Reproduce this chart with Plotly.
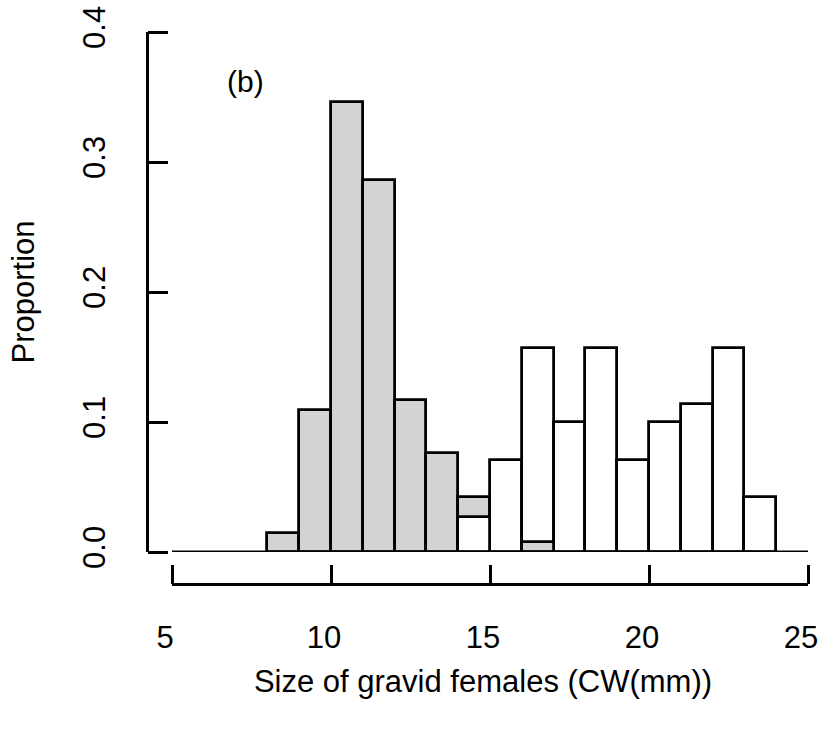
import plotly.graph_objects as go

# Histogram bins (lower edges, width 1 mm)
bin_lower = [8, 9, 10, 11, 12, 13, 14, 15, 16, 17, 18, 19, 20, 21, 22, 23, 24]
gray_prop = [0.015, 0.109, 0.346, 0.286, 0.117, 0.076, 0.042, 0.0, 0.008,
             0.0, 0.0, 0.0, 0.0, 0.0, 0.0, 0.0, 0.0]
white_prop = [0.0, 0.0, 0.0, 0.0, 0.0, 0.0, 0.027, 0.071, 0.157,
              0.100, 0.157, 0.071, 0.100, 0.114, 0.157, 0.042, 0.0]
x_ticks = [5, 10, 15, 20, 25]
y_ticks = [0.0, 0.1, 0.2, 0.3, 0.4]
y_tick_text = ["0.0", "0.1", "0.2", "0.3", "0.4"]

GRAY = "#D3D3D3"
WHITE = "#FFFFFF"
FONT = "Liberation Sans, Arial, sans-serif"
LW = 2.8

centers = [b + 0.5 for b in bin_lower]
# per bin: draw the taller bar first, the shorter one on top
tall_v, tall_c, short_v, short_c = [], [], [], []
for g, w in zip(gray_prop, white_prop):
    if g >= w:
        tall_v.append(g); tall_c.append(GRAY); short_v.append(w); short_c.append(WHITE)
    else:
        tall_v.append(w); tall_c.append(WHITE); short_v.append(g); short_c.append(GRAY)

def keep(vals, cols):
    xs, ys, cs = [], [], []
    for x, v, c in zip(centers, vals, cols):
        if v > 0:
            xs.append(x); ys.append(v); cs.append(c)
    return xs, ys, cs

XR = [x_ticks[0], x_ticks[-1]]
YR = [y_ticks[0], y_ticks[-1]]

W, H = 825, 730
L, T, R, B = 147, 32, 15, 146
pw, ph = W - L - R, H - T - B
xdom = [25 / pw, (pw - 2) / pw]
ydom = [32 / ph, 1]
lab_shift = 7 / pw                     # tick labels sit slightly left of ticks
xdom_lab = [xdom[0] - lab_shift, xdom[1] - lab_shift]

fig = go.Figure()
for vals, cols in [(tall_v, tall_c), (short_v, short_c)]:
    xs, ys, cs = keep(vals, cols)
    fig.add_trace(go.Bar(x=xs, y=ys, width=1, xaxis="x", yaxis="y",
                         marker=dict(color=cs, line=dict(color="black", width=LW)),
                         showlegend=False, hoverinfo="skip"))

# baseline at y = 0 across the axis range (on the tick-only overlay axes)
fig.add_trace(go.Scatter(x=[XR[0] - 0.06, XR[1] + 0.06], y=[0, 0], xaxis="x2", yaxis="y2",
                         mode="lines", line=dict(color="black", width=LW),
                         showlegend=False, hoverinfo="skip", cliponaxis=False))
# empty trace so the label axis (x3) gets its own subplot and is drawn
fig.add_trace(go.Scatter(x=[], y=[], xaxis="x3", yaxis="y", mode="markers",
                         showlegend=False, hoverinfo="skip"))

fig.add_annotation(x=7.3, y=0.362, xref="x", yref="y", text="(b)", showarrow=False,
                   font=dict(size=30, color="black", family=FONT))

fig.update_layout(
    width=W, height=H,
    margin=dict(l=L, r=R, t=T, b=B),
    plot_bgcolor="rgba(0,0,0,0)", paper_bgcolor="white",
    barmode="overlay", bargap=0,
    font=dict(family=FONT, size=31, color="black"),
    xaxis=dict(range=XR, domain=xdom, anchor="free", position=0, automargin=False,
               showline=True, linecolor="black", linewidth=LW, ticks="",
               showticklabels=False, showgrid=False, zeroline=False),
    xaxis2=dict(range=XR, overlaying="x", side="top", anchor="free", position=0,
                automargin=False, showline=False, ticks="outside", ticklen=19,
                tickwidth=LW, tickcolor="black", tickvals=x_ticks,
                showticklabels=False, showgrid=False, zeroline=False),
    xaxis3=dict(range=XR, domain=xdom_lab, side="bottom", anchor="free", position=0,
                automargin=False, showline=False, ticks="", tickvals=x_ticks,
                showgrid=False, zeroline=False,
                ticklabelstandoff=32, ticklabeloverflow="allow",
                title=dict(text="Size of gravid females (CW(mm))", standoff=16,
                           font=dict(size=31))),
    yaxis=dict(range=YR, domain=ydom, anchor="free", position=0, automargin=False,
               showline=True, linecolor="black", linewidth=LW, ticks="",
               tickvals=y_ticks, ticktext=y_tick_text, tickangle=-90,
               showgrid=False, zeroline=False, ticklabelstandoff=29,
               ticklabeloverflow="allow",
               title=dict(text="Proportion", standoff=31, font=dict(size=31))),
    yaxis2=dict(range=YR, overlaying="y", side="right", anchor="free", position=0,
                automargin=False, showline=False, ticks="outside", ticklen=20,
                tickwidth=LW, tickcolor="black", tickvals=y_ticks,
                showticklabels=False, showgrid=False, zeroline=False),
)

fig.write_html("out.html", config={"displayModeBar": False},
               post_script="document.body.style.margin='0';document.body.style.overflow='hidden';")
